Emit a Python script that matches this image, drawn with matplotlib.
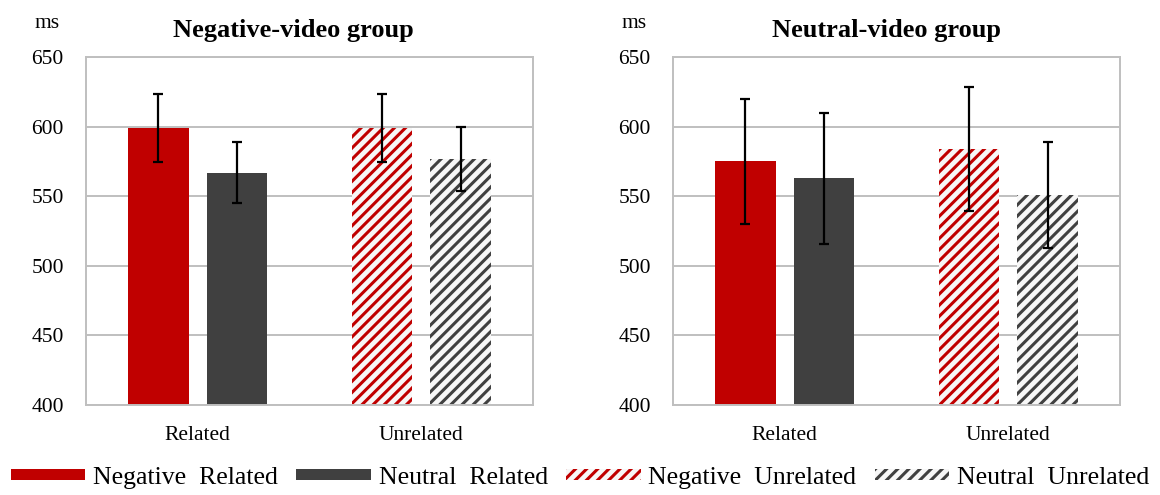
import matplotlib.pyplot as plt
import matplotlib.patches as mpatches
import numpy as np

plt.rcParams['font.family'] = ['Liberation Serif', 'DejaVu Serif']
plt.rcParams['hatch.linewidth'] = 2.2

conditions = ['Related', 'Unrelated']
groups = ['Negative-video group', 'Neutral-video group']

# mean RT (ms) per group: [Related, Unrelated]
negative_means = [[599, 599], [575, 584]]
neutral_means = [[567, 577], [563, 551]]
negative_err = [[24.5, 24.5], [45, 44.5]]
neutral_err = [[22, 23], [47, 38]]

red = '#C00000'
grey = '#404040'
grid_col = '#BFBFBF'
light = '#F7F7F7'

fig = plt.figure(figsize=(11.6, 4.95), dpi=100)
ax_pos = [[86 / 1160, 90 / 495, 447 / 1160, 348 / 495],
          [673 / 1160, 90 / 495, 447 / 1160, 348 / 495]]
title_x = [0.464, 0.478]

x = np.arange(len(conditions))
w = 0.272
off = 0.176

for i, title in enumerate(groups):
    ax = fig.add_axes(ax_pos[i])
    for j in range(len(conditions)):
        hatch = None if j == 0 else '///'
        fc_neg = red if j == 0 else light
        fc_neu = grey if j == 0 else light
        ax.bar(x[j] - off, negative_means[i][j], w, color=fc_neg,
               edgecolor=red, linewidth=0, hatch=hatch, zorder=2)
        ax.bar(x[j] + off, neutral_means[i][j], w, color=fc_neu,
               edgecolor=grey, linewidth=0, hatch=hatch, zorder=2)
        ax.errorbar(x[j] - off, negative_means[i][j], yerr=negative_err[i][j],
                    fmt='none', ecolor='black', elinewidth=1.6, capsize=3.3,
                    capthick=1.6, zorder=3)
        ax.errorbar(x[j] + off, neutral_means[i][j], yerr=neutral_err[i][j],
                    fmt='none', ecolor='black', elinewidth=1.6, capsize=3.3,
                    capthick=1.6, zorder=3)

    ax.set_xlim(-0.5, 1.5)
    ax.set_ylim(400, 650)
    ax.set_yticks(range(400, 651, 50))
    ax.set_xticks(x)
    ax.set_xticklabels(conditions)
    ax.tick_params(length=0, labelsize=15.5)
    ax.tick_params(axis='y', pad=16)
    ax.tick_params(axis='x', pad=15)
    ax.yaxis.grid(True, color=grid_col, linewidth=1.4, zorder=0)
    ax.set_axisbelow(True)
    for s in ax.spines.values():
        s.set_color(grid_col)
        s.set_linewidth(1.4)
    ax.text(-0.087, 1.095, 'ms', transform=ax.transAxes, fontsize=15.5,
            ha='center', va='center')
    ax.text(title_x[i], 1.075, title, transform=ax.transAxes, fontsize=19,
            fontweight='bold', ha='center', va='center')

handles = [
    mpatches.Patch(facecolor=red, edgecolor=red, linewidth=0),
    mpatches.Patch(facecolor=grey, edgecolor=grey, linewidth=0),
    mpatches.Patch(facecolor=light, edgecolor=red, linewidth=0, hatch='///'),
    mpatches.Patch(facecolor=light, edgecolor=grey, linewidth=0, hatch='///'),
]
labels = ['Negative  Related', 'Neutral  Related',
          'Negative  Unrelated', 'Neutral  Unrelated']
fig.legend(handles, labels, loc='center', bbox_to_anchor=(0.5, 17 / 495),
           ncol=4, frameon=False, fontsize=18.5, handlelength=2.9,
           handleheight=0.3, handletextpad=0.3, columnspacing=0.72,
           borderaxespad=0)

fig.savefig('out.png', dpi=100)
